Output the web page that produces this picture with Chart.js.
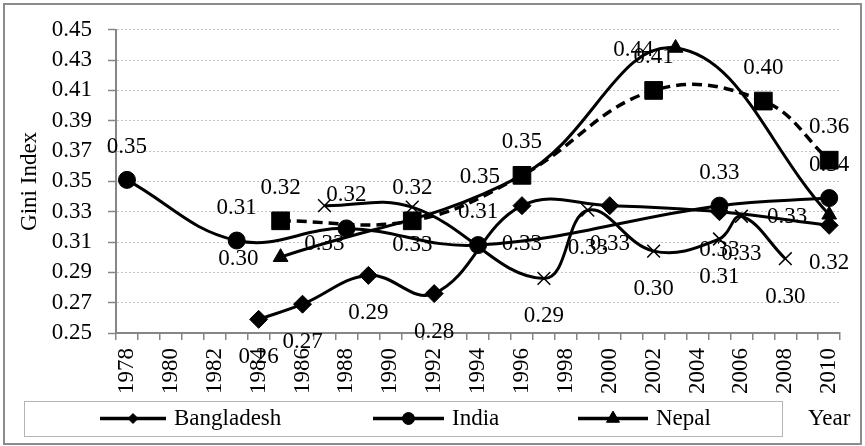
<!DOCTYPE html>
<html>
<head>
<meta charset="utf-8">
<script src="https://cdn.jsdelivr.net/npm/chart.js@4.4.1/dist/chart.umd.min.js"></script>
<style>
    html, body { margin: 0; padding: 0; background: #ffffff; }
</style>
</head>
<body>
<canvas id="gini_chart" width="865" height="446"></canvas>
<script>

// category axis: one slot per year, label shown every other year
let years = ['1978', '1979', '1980', '1981', '1982', '1983', '1984', '1985', '1986', '1987', '1988',
    '1989', '1990', '1991', '1992', '1993', '1994', '1995', '1996', '1997', '1998', '1999',
    '2000', '2001', '2002', '2003', '2004', '2005', '2006', '2007', '2008', '2009', '2010'];

let y_ticks = [0.25, 0.27, 0.29, 0.31, 0.33, 0.35, 0.37, 0.39, 0.41, 0.43, 0.45];

let bangladesh_years = ['1984', '1986', '1989', '1992', '1996', '2000', '2005', '2010'];
let bangladesh_gini = [0.259, 0.269, 0.288, 0.276, 0.334, 0.334, 0.330, 0.321];

let india_years = ['1978', '1983', '1988', '1994', '2005', '2010'];
let india_gini = [0.351, 0.311, 0.319, 0.308, 0.334, 0.339];

let nepal_years = ['1985', '1996', '2003', '2010'];
let nepal_gini = [0.300, 0.354, 0.438, 0.328];

let srilanka_years = ['1985', '1991', '1996', '2002', '2007', '2010'];
let srilanka_gini = [0.324, 0.324, 0.354, 0.410, 0.403, 0.364];

let pakistan_years = ['1987', '1991', '1997', '1999', '2002', '2005', '2006', '2008'];
let pakistan_gini = [0.334, 0.333, 0.286, 0.331, 0.304, 0.312, 0.327, 0.299];

let legend_names = ['Bangladesh', 'India', 'Nepal'];

function to_points(xs, ys) {
    return xs.map((x, i) => ({ x: x, y: ys[i] }));
}

const FONT = '"Liberation Serif", "Times New Roman", serif';
const AXIS_GREY = '#868686';

Chart.defaults.font.family = FONT;
Chart.defaults.font.size = 23;
Chart.defaults.color = '#000000';


// ----------------- data labels next to each marker ---------------------------

const value_labels = {
    id: 'value_labels',
    afterDatasetsDraw(chart) {
        const ctx = chart.ctx;
        ctx.save();
        ctx.font = '23px ' + FONT;
        ctx.fillStyle = '#000000';
        chart.data.datasets.forEach((ds, i) => {
            const meta = chart.getDatasetMeta(i);
            meta.data.forEach((pt, j) => {
                let txt = ds.data[j].y.toFixed(2);
                ctx.textBaseline = 'alphabetic';
                if (ds.labelPos === 'above') {
                    ctx.textAlign = 'center';
                    ctx.fillText(txt, pt.x, pt.y - 27);
                } else if (ds.labelPos === 'below') {
                    ctx.textAlign = 'center';
                    ctx.fillText(txt, pt.x, pt.y + 44);
                } else {
                    ctx.textAlign = 'right';
                    ctx.fillText(txt, pt.x - 22, pt.y + 8);
                }
            });
        });
        ctx.restore();
    }
};


// ----------------- boxed legend, "Year" and outer frame ----------------------

const boxed_legend = {
    id: 'boxed_legend',
    afterDraw(chart) {
        const ctx = chart.ctx;
        const h = Chart.helpers;
        ctx.save();

        // frame round the whole chart
        ctx.strokeStyle = '#8c8c8c';
        ctx.lineWidth = 2;
        ctx.strokeRect(4, 4, 857, 440);

        // legend box
        ctx.strokeStyle = '#b4b4b4';
        ctx.lineWidth = 1;
        ctx.strokeRect(24.5, 401.5, 758, 35);

        let items = [
            { x1: 100, x2: 166, style: 'rectRot', r: 5 },
            { x1: 373, x2: 444, style: 'circle', r: 6 },
            { x1: 578, x2: 648, style: 'triangle', r: 7.5 }
        ];
        let ly = 418.5;
        ctx.font = '23px ' + FONT;
        ctx.textAlign = 'left';
        ctx.textBaseline = 'alphabetic';
        items.forEach((it, i) => {
            ctx.strokeStyle = '#000000';
            ctx.fillStyle = '#000000';
            ctx.lineWidth = 3.5;
            ctx.beginPath();
            ctx.moveTo(it.x1, ly);
            ctx.lineTo(it.x2, ly);
            ctx.stroke();
            ctx.lineWidth = 1;
            h.drawPoint(ctx, { pointStyle: it.style, radius: it.r, borderWidth: 1, rotation: 0 },
                (it.x1 + it.x2) / 2, ly);
            ctx.fillStyle = '#000000';
            ctx.fillText(legend_names[i], it.x2 + 8, 425);
        });

        ctx.fillText('Year', 808, 425);
        ctx.restore();
    }
};


// ----------------- the chart --------------------------------------------------

function line_set(label, xs, ys, style, radius, pos, extra) {
    return Object.assign({
        label: label,
        data: to_points(xs, ys),
        borderColor: '#000000',
        backgroundColor: '#000000',
        borderWidth: 3,
        tension: 0.4,
        pointStyle: style,
        pointRadius: radius,
        pointBorderWidth: 1,
        pointBackgroundColor: '#000000',
        pointBorderColor: '#000000',
        labelPos: pos
    }, extra || {});
}

var gini_context = document.getElementById('gini_chart').getContext('2d');
var gini_chart = new Chart(gini_context, {
    type: 'line',
    data: {
        labels: years,
        datasets: [
            line_set('Bangladesh', bangladesh_years, bangladesh_gini, 'rectRot', 9, 'below'),
            line_set('India', india_years, india_gini, 'circle', 8.5, 'above'),
            line_set('Nepal', nepal_years, nepal_gini, 'triangle', 8.5, 'left'),
            line_set('Sri Lanka', srilanka_years, srilanka_gini, 'rect', 12.5, 'above',
                { borderDash: [10, 6], borderWidth: 3.5 }),
            line_set('Pakistan', pakistan_years, pakistan_gini, 'crossRot', 9, 'below',
                { pointBorderWidth: 1.5 })
        ]
    },
    options: {
        responsive: false,
        animation: false,
        layout: { padding: { left: 12, top: 24, right: 11, bottom: 0 } },
        plugins: {
            legend: { display: false },
            tooltip: { enabled: false }
        },
        scales: {
            x: {
                type: 'category',
                offset: true,
                afterFit: function (scale) { scale.height = 113; },
                grid: {
                    offset: true,
                    drawOnChartArea: false,
                    drawTicks: true,
                    tickLength: 7,
                    color: AXIS_GREY,
                    lineWidth: 1.5
                },
                border: { color: AXIS_GREY, width: 2 },
                ticks: {
                    autoSkip: false,
                    minRotation: 90,
                    maxRotation: 90,
                    padding: 8,
                    color: '#000000',
                    callback: function (value, index) {
                        return index % 2 === 0 ? this.getLabelForValue(value) : '';
                    }
                }
            },
            y: {
                min: 0.25,
                max: 0.45,
                afterFit: function (scale) { scale.width = 104; },
                afterBuildTicks: function (scale) {
                    scale.ticks = y_ticks.map(v => ({ value: v }));
                },
                title: {
                    display: true,
                    text: 'Gini Index',
                    color: '#000000',
                    padding: { top: 4, bottom: 4 }
                },
                grid: {
                    color: '#c4c4c4',
                    lineWidth: 1,
                    tickColor: AXIS_GREY,
                    tickLength: 8,
                    tickBorderDash: [1, 0],
                    tickWidth: 1.5
                },
                border: { color: AXIS_GREY, width: 2, dash: [2, 2] },
                ticks: {
                    autoSkip: false,
                    padding: 16,
                    color: '#000000',
                    callback: function (value) { return value.toFixed(2); }
                }
            }
        }
    },
    plugins: [value_labels, boxed_legend]
});
</script>
</body>
</html>
